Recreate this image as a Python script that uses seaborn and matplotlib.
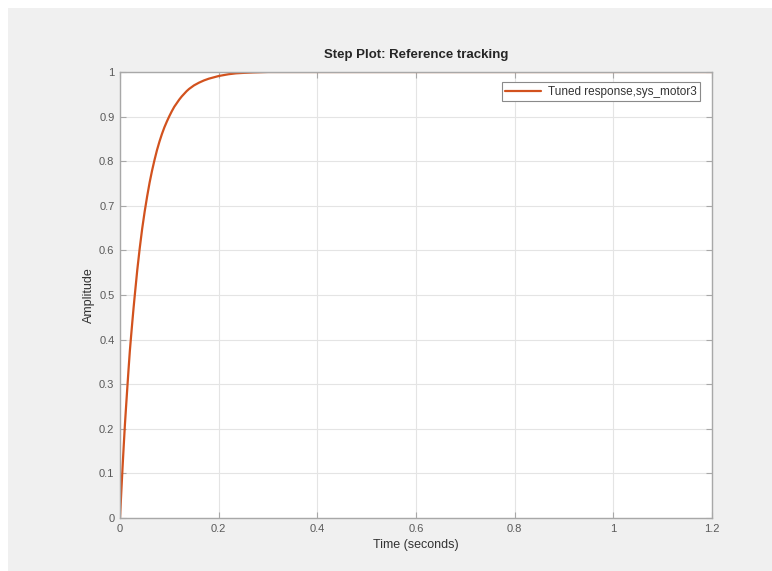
import matplotlib
matplotlib.use("Agg")
import matplotlib.pyplot as plt
import seaborn as sns
import pandas as pd
from matplotlib.patches import Rectangle
from matplotlib.ticker import FuncFormatter, MultipleLocator

time_s = [0, 0.0025, 0.005, 0.0075, 0.01, 0.0125, 0.015, 0.0175, 0.02, 0.0225,
          0.025, 0.0275, 0.03, 0.035, 0.04, 0.045, 0.05, 0.055, 0.06, 0.065,
          0.07, 0.075, 0.08, 0.085, 0.09, 0.095, 0.10, 0.105, 0.11, 0.115,
          0.12, 0.125, 0.13, 0.135, 0.14, 0.145, 0.15, 0.16, 0.17, 0.18, 0.19,
          0.20, 0.21, 0.22, 0.235, 0.25, 0.27, 0.30, 0.35, 0.40, 0.60, 0.80,
          1.0, 1.2]
amplitude = [0, 0.056, 0.11, 0.161, 0.21, 0.253, 0.295, 0.336, 0.375, 0.408,
             0.44, 0.471, 0.50, 0.556, 0.605, 0.649, 0.687, 0.721, 0.752, 0.779,
             0.803, 0.825, 0.844, 0.861, 0.876, 0.889, 0.901, 0.912, 0.922, 0.930,
             0.938, 0.945, 0.951, 0.957, 0.962, 0.966, 0.970, 0.976, 0.981, 0.985,
             0.988, 0.991, 0.993, 0.995, 0.997, 0.998, 0.999, 1.0, 1.0, 1.0, 1.0,
             1.0, 1.0, 1.0]
series_name = "Tuned response,sys_motor3"
title_text = "Step Plot: Reference tracking"
x_label = "Time (seconds)"
y_label = "Amplitude"

df = pd.DataFrame({"Time": time_s, "Amplitude": amplitude, "series": series_name})

sns.set_theme(style="whitegrid")
plt.rcParams['font.family'] = ['Liberation Sans', 'DejaVu Sans']

W, H = 772, 571
fig = plt.figure(figsize=(W / 100, H / 100), dpi=100, facecolor="white")
fig.patches.append(Rectangle((8 / W, 0), 1, 1 - 8 / H, transform=fig.transFigure,
                             facecolor="#f0f0f0", edgecolor="none", zorder=-10))
ax = fig.add_axes([120 / W, 1 - 518 / H, (712 - 120) / W, (518 - 72) / H])
ax.set_facecolor("white")

sns.lineplot(data=df, x="Time", y="Amplitude", hue="series",
             palette=["#D2521E"], linewidth=1.6, ax=ax)

ax.set_xlim(0, 1.2)
ax.set_ylim(0, 1)
ax.xaxis.set_major_locator(MultipleLocator(0.2))
ax.yaxis.set_major_locator(MultipleLocator(0.1))
fmt = FuncFormatter(lambda v, p: "%g" % round(v, 3))
ax.xaxis.set_major_formatter(fmt)
ax.yaxis.set_major_formatter(fmt)

ax.grid(True, color="#e4e4e4", linewidth=0.8)
for s in ax.spines.values():
    s.set_color("#a8a8a8")
    s.set_linewidth(1.0)
ax.tick_params(axis="both", which="major", direction="in", length=4, width=0.8,
               color="#a8a8a8", labelsize=8, labelcolor="#5a5a5a",
               top=True, right=True, bottom=True, left=True, pad=4)

ax.set_title(title_text, fontsize=9.5, fontweight="bold", color="#262626", pad=10)
ax.set_xlabel(x_label, fontsize=9, color="#333333", labelpad=4)
ax.set_ylabel(y_label, fontsize=9, color="#333333", labelpad=3)

leg = ax.legend(loc="upper right", fontsize=8.5, frameon=True, fancybox=False,
                edgecolor="#8a8a8a", framealpha=1, handlelength=3.0,
                handletextpad=0.6, borderpad=0.3, bbox_to_anchor=(0.99, 0.99))
leg.get_frame().set_linewidth(0.8)
for t in leg.get_texts():
    t.set_color("#333333")

fig.savefig("out.png", dpi=100, facecolor=fig.get_facecolor())
